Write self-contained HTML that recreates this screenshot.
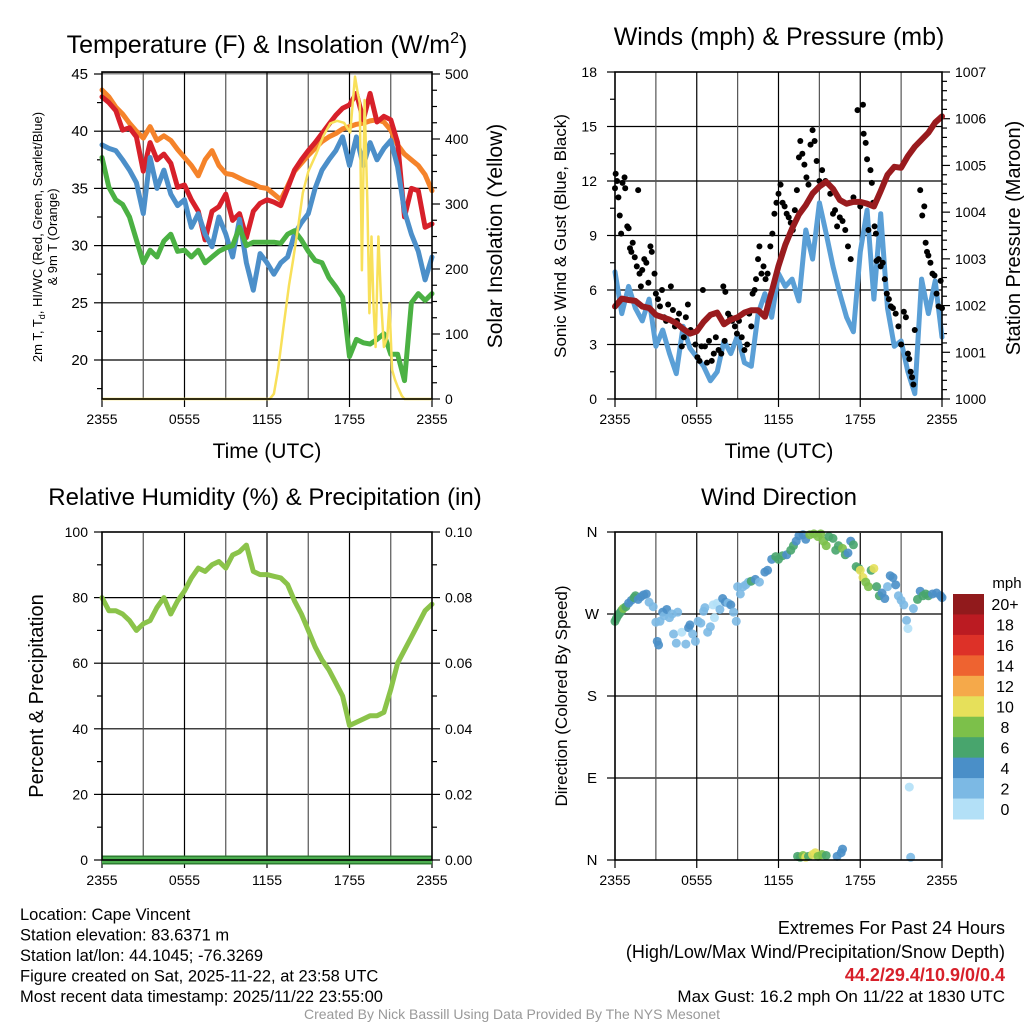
<!DOCTYPE html>
<html><head><meta charset="utf-8">
<style>
html,body{margin:0;padding:0;background:#fff;}
svg{display:block;font-family:"Liberation Sans",Arial,sans-serif;}
</style></head>
<body>
<svg id="fig" width="1024" height="1024" viewBox="0 0 1024 1024"></svg>
<script>
// ---------- DATA ----------
const timeLabels = ['2355','0555','1155','1755','2355'];
const halfHours = [0,0.5,1,1.5,2,2.5,3,3.5,4,4.5,5,5.5,6,6.5,7,7.5,8,8.5,9,9.5,10,10.5,11,11.5,12,12.5,13,13.5,14,14.5,15,15.5,16,16.5,17,17.5,18,18.5,19,19.5,20,20.5,21,21.5,22,22.5,23,23.5,24];
const temp9m = [43.6,43,42.1,41.5,40.7,40,39.4,40.4,39.2,39.6,39.2,38.4,37.7,37,36.1,37.5,38.3,37,36.3,36.2,35.9,35.6,35.4,35.1,35,34.5,34,35.2,36.5,37.2,37.9,38.5,39.1,39.5,39.8,40.2,40.4,40.6,40.7,40.9,41,40.8,40.1,38.8,38,37.5,37,36.2,34.8];
const temp2m = [43,42.5,41.8,40.1,40.3,39.5,36.5,39,37.5,38,37.2,35.1,35.3,34,33,30.5,33,33.4,34.5,32.2,32.8,30.7,33,33.7,34,33.8,33.5,35,36.6,37.5,38.3,39,39.8,40.6,41.4,42,42.3,43.3,41,43.3,40.8,41.3,41,39,32.5,35,34.8,31.6,31.9];
const windChill = [38.8,38.5,38.3,37.5,36.6,35.5,32.8,37.7,35,36.6,34.5,33.5,34,31.6,32.8,31,29.9,32.5,31,29,32.3,28.5,26.1,29.3,28.5,27.5,28.5,29,31,32,32.8,35,36.6,37.5,38.3,39.5,37,39.5,37,39,37.5,38.5,39.2,36.9,33,31,29.5,27,29];
const dewPoint = [37.7,35.1,34,33.6,32.5,30.5,28.5,29.6,29,30.4,31,29.5,29.6,29,29.6,28.5,29,29.5,29.8,30,31.6,30,30.3,30.3,30.3,30.3,30.2,31,31.3,30.5,29.5,28.7,28.5,27.2,26.4,25.5,20.3,21.8,21.5,21.4,21.8,22.3,20.5,20.5,18.2,25,25.8,25.2,25.8];
const solarTimes = [0,12.2,12.5,12.8,13.2,13.6,13.9,14.3,14.6,15,15.6,16.1,16.6,17.1,17.6,18.05,18.4,18.6,18.75,18.9,19.1,19.3,19.45,19.6,19.75,19.9,20.1,20.3,20.5,20.75,20.9,21.1,21.3,21.5,21.8,22,24];
const solarValues = [0,0,8,45,111,175,214,270,317,350,378,405,424,428,425,410,496,470,455,198,460,300,132,250,140,80,250,150,80,95,147,45,30,19,5,0,0];
const windSpeed = [7,4.7,6.2,5,4.3,5.5,2.9,3.8,2.5,1.4,4,2.8,2.3,1.8,1,1.5,3.2,2.5,3.5,2,1.8,4.7,5.8,4.5,6.9,6.2,6.6,5.4,9.3,7.7,10.8,9.1,7.3,5.8,4.5,3.7,8.1,10.4,5.5,10.2,5,2.9,3.2,1.5,0.3,6.6,4.7,6.5,3.4];
const pressure = [1001.98,1002.15,1002.12,1002.1,1001.98,1001.95,1001.8,1001.75,1001.7,1001.62,1001.5,1001.4,1001.45,1001.65,1001.8,1001.85,1001.6,1001.7,1001.75,1001.85,1001.9,1001.9,1001.76,1002.3,1002.85,1003.3,1003.65,1003.95,1004.15,1004.4,1004.55,1004.65,1004.5,1004.26,1004.18,1004.22,1004.22,1004.18,1004.12,1004.45,1004.8,1004.97,1004.95,1005.2,1005.4,1005.55,1005.7,1005.92,1006.05];
const gustTimes = [0,0.05,0.15,0.25,0.35,0.45,0.55,0.7,0.75,0.9,1,1.1,1.2,1.3,1.45,1.6,1.7,1.8,1.9,2,2.15,2.3,2.45,2.6,2.7,2.9,3,3.15,3.3,3.45,3.6,3.75,3.9,4.1,4.25,4.4,4.55,4.7,4.9,5.05,5.2,5.35,5.55,5.9,6.05,6.2,6.35,6.45,6.6,6.75,6.9,7.1,7.25,7.4,7.6,7.8,7.95,8.05,8.1,8.3,8.45,8.6,8.8,8.95,9.1,9.3,9.5,9.7,9.85,10,10.1,10.25,10.35,10.5,10.6,10.75,10.9,11.05,11.2,11.4,11.55,11.7,11.85,12,12.15,12.3,12.45,12.6,12.75,12.9,13.05,13.2,13.35,13.5,13.6,13.75,13.9,14.05,14.2,14.35,14.5,14.65,14.8,15,15.2,15.45,15.8,16,16.15,16.3,16.5,16.7,16.9,17.1,17.3,17.5,17.8,18.2,18,18.25,18.4,18.5,18.6,18.75,18.85,18.95,19.05,19.15,19.2,19.35,19.5,19.65,19.8,19.95,20.1,20.25,20.4,20.6,20.8,21,21.2,21.35,21.5,21.6,21.7,21.8,21.9,22,22.4,22.55,22.7,22.8,22.9,23,23.15,23.3,23.45,23.6,23.75,23.9,24];
const gustValues = [11.6,12.4,12,11.1,10.1,9.1,11.9,12.2,11.6,9.5,9.4,8.3,8.1,8.6,7.8,7.3,11.5,6.9,6.2,7.1,7.7,7.5,6.4,8.4,8.1,6.9,5.8,5.5,5.1,6,4.5,4.3,5.2,6.2,4.9,4,4.3,4.7,2.9,3.4,4.5,5.2,3.8,3,2.3,2.1,2.9,6,2.9,2,3.2,2.1,2.5,3.4,2.7,2.5,6.2,3.2,5.9,4.7,4.5,4.3,4,3.6,4.3,3.4,2.7,3,4.7,4,5.8,6,6.6,7.7,8.4,6.9,7.3,6.6,6.9,8.4,9.1,10.2,10.8,11.3,11.8,10.8,10.6,10.2,10,9.7,9.3,10.4,11.5,13.3,14.2,13.5,12.9,12.2,11.8,14,14.8,14.2,13.1,12,12.6,12,11.3,10.2,10.4,9.5,10,9.8,9.3,8.4,7.7,11.1,15.9,16.2,10.6,14.6,14.1,13.2,9.3,12.6,11.9,10.8,9.5,9.1,7.6,7.7,7.3,7.5,6.6,5.8,5.5,5.1,5,4.7,4,3,4.8,4.5,2.5,2.2,1.5,1.2,0.8,3.8,11.5,10.1,10.6,8.6,8.1,7.9,7.5,6.9,6.8,5.8,5.1,6.5,5];
const relHumidity = [80,76,76,75,73,70,72,73,77,80,75,79,82,86,89,88,90,91,89,93,94,96,88,87,87,86.5,86,84,79,75,70,65,61,58,54,50,41,42,43,44,44,45,52,60,64,68,72,76,78];
const precip = [0,0,0,0,0,0,0,0,0,0,0,0,0,0,0,0,0,0,0,0,0,0,0,0,0,0,0,0,0,0,0,0,0,0,0,0,0,0,0,0,0,0,0,0,0,0,0,0,0];
const dirTimes = [0,0.1,0.2,0.3,0.4,0.5,0.6,0.8,1,1.2,1.4,1.5,1.7,1.9,2.1,2.3,2.5,2.8,3,3.1,3.2,3.3,3.5,3.6,3.8,4,4.2,4.3,4.5,4.6,4.9,5.2,5.4,5.5,5.7,5.9,6.1,6.3,6.5,6.6,6.8,7,7.2,7.3,7.5,7.7,7.9,8.1,8.3,8.5,8.7,8.9,9,9.2,9.4,9.6,9.8,10,10.3,10.6,11,11.2,11.5,11.8,12,12.3,12.6,12.9,13.1,13.3,13.5,13.8,14,14.3,14.6,14.9,15.1,15.3,15.5,15.7,16,16.2,16.4,16.7,16.9,17.1,17.3,17.5,17.7,17.9,18,18.2,18.4,18.6,18.8,19,19.2,19.4,19.6,19.8,20,20.2,20.4,20.6,20.8,21,21.2,21.4,21.5,21.6,21.9,22.2,22.4,22.6,22.8,23,23.3,23.6,23.9,24,13.4,13.6,13.8,14,14.2,14.5,14.7,14.9,15.2,15.5,16.3,16.6,16.7,21.7];
const dirValues = [262,265,268,270,272,274,276,278,282,285,288,290,286,289,291,292,283,278,261,240,236,262,272,268,275,266,270,248,238,272,250,237,255,258,248,240,262,260,273,277,250,256,280,266,282,275,287,283,282,280,272,262,300,292,300,302,305,306,308,305,316,318,330,333,330,334,335,340,345,350,356,357,352,357,358,355,358,350,345,355,353,340,345,342,335,337,350,346,322,320,318,310,305,300,318,320,300,290,293,287,300,312,310,302,290,285,280,263,254,80,276,286,295,290,292,290,292,293,290,288,4,3,5,3,4,6,8,4,6,5,4,8,12,3];
const dirSpeeds = [6,6,7,6,7,6,8,7,4,4,7,7,4,4,4,4,2,3,2,4,4,3,4,3,4,2,3,2,3,2,1,3,4,4,2,3,3,2,3,2,2,3,0,1,1,3,4,4,3,4,2,3,2,3,2,2,2,6,4,3,4,4,4,6,6,6,4,6,6,4,4,4,4,8,8,8,8,8,8,6,6,6,7,8,6,4,4,6,6,6,10,10,8,8,6,10,6,6,4,4,2,4,4,4,2,2,2,2,0,0,2,6,4,6,6,6,4,4,4,4,6,6,8,10,6,10,10,8,8,6,4,4,4,2];
const cbarLabels = ['20+','18','16','14','12','10','8','6','4','2','0'];
const cbarColors = ['#911a1c','#bb1b22','#dd3128','#ee6330','#f5a94a','#e6e05a','#7cc04a','#48a56d','#4a8fc8','#7cb9e4','#b3e0f7'];
const binColors = ['#b3e0f7','#7cb9e4','#4a8fc8','#48a56d','#7cc04a','#e6e05a','#f5a94a','#ee6330','#dd3128','#bb1b22','#911a1c'];

// ---------- HELPERS ----------
const NS='http://www.w3.org/2000/svg';
const svg=document.getElementById('fig');
function mk(tag,attrs,parent){const e=document.createElementNS(NS,tag);for(const k in attrs)e.setAttribute(k,attrs[k]);(parent||svg).appendChild(e);return e;}
function txt(s,x,y,size,anchor,parent,extra){const e=mk('text',Object.assign({x:x,y:y,'font-size':size,'text-anchor':anchor||'middle',fill:'#000'},extra||{}),parent);e.textContent=s;return e;}
function lin(d0,d1,r0,r1){return v=>r0+(v-d0)*(r1-r0)/(d1-d0);}
function path(xs,ys,fx,fy){return xs.map((t,i)=>(i?'L':'M')+fx(t).toFixed(1)+','+fy(ys[i]).toFixed(1)).join('');}

function panelFrame(g,L,R,T,B,name){
  const r=mk('rect',{x:L,y:T,width:R-L,height:B-T,fill:'none',stroke:'#000','stroke-width':1.6},g);
  
  
}
function timeAxis(g,L,R,B,fx,name){
  for(let h=3;h<24;h+=3){const l=mk('line',{x1:fx(h),x2:fx(h),y1:B-327,y2:B,stroke:h%6?'#555':'#000','stroke-width':1.2},g);
    
    }
  timeLabels.forEach((s,i)=>{const t=txt(s,fx(i*6),B+25,14,'middle',g);
    
    
    const k=mk('line',{x1:fx(i*6),x2:fx(i*6),y1:B,y2:B+8,stroke:'#000','stroke-width':1.2},g);
    
    });
}

// ===== PANEL 1: Temperature =====
(function(){
 const g=mk('g',{});
 
 
 const L=102,R=432,T=72,B=399;
 const fx=lin(0,24,L,R), fy=lin(45,20,74,360), fs=lin(0,500,399,74);
 for(let v=20;v<=40;v+=5){const l=mk('line',{x1:L,x2:R,y1:fy(v),y2:fy(v),stroke:'#000','stroke-width':1.2},g);
   
   }
 const top=mk('line',{x1:L,x2:R,y1:73,y2:73,stroke:'#888','stroke-width':3},g);
 
 
 timeAxis(g,L,R,B,fx,'temp');
 for(let v=17.5;v<=45;v+=2.5){const major=v%5===0;const k=mk('line',{x1:L-(major?8:5),x2:L,y1:fy(v),y2:fy(v),stroke:'#000','stroke-width':1.2},g);
   
   
   if(major){const t=txt(String(v),88,fy(v)+5,15,'end',g);
   
   }}
 for(let v=0;v<=500;v+=25){const major=v%100===0;const k=mk('line',{x1:R,x2:R+(major?8:5),y1:fs(v),y2:fs(v),stroke:'#000','stroke-width':1.2},g);
   
   
   if(major){const t=txt(String(v),445,fs(v)+5,14,'start',g);
   
   }}
 const series=[[temp9m,'#f5832a','orange-9m-temp'],[temp2m,'#d7202a','red-2m-temp'],[windChill,'#4c8fc9','blue-wind-chill'],[dewPoint,'#4bb143','green-dew-point']];
 series.forEach(s=>{const p=mk('path',{d:path(halfHours,s[0],fx,fy),fill:'none',stroke:s[1],'stroke-width':5,'stroke-linejoin':'round','stroke-linecap':'round'},g);
   
   });
 const sp=mk('path',{d:path(solarTimes,solarValues,fx,fs),fill:'none',stroke:'#f8e05a','stroke-width':2.5,'stroke-linejoin':'round'},g);
 
 
 panelFrame(g,L,R,T,B,'temp');
 const ti=mk('text',{x:267,y:53,'font-size':25,'text-anchor':'middle'},g);
 ti.innerHTML='Temperature (F) &amp; Insolation (W/m<tspan dy="-10" font-size="16">2</tspan><tspan dy="10">)</tspan>';
 
 
 const xl=txt('Time (UTC)',267,458,21,'middle',g);
 
 
 const yl=mk('text',{x:0,y:0,'font-size':13,'text-anchor':'middle',transform:'translate(42,237) rotate(-90)'},g);
 yl.innerHTML='2m T, T<tspan dy="3" font-size="9">d</tspan><tspan dy="-3">, HI/WC (Red, Green, Scarlet/Blue)</tspan>';
 
 
 const yl2=txt('& 9m T (Orange)',0,0,13,'middle',g,{transform:'translate(57,237) rotate(-90)'});
 
 
 const yr=txt('Solar Insolation (Yellow)',0,0,21,'middle',g,{transform:'translate(502,236) rotate(-90)'});
 
 
})();

// ===== PANEL 2: Winds & Pressure =====
(function(){
 const g=mk('g',{});
 
 
 const L=615,R=942,T=72,B=399;
 const fx=lin(0,24,L,R), fy=lin(0,18,399,72), fp=lin(1000,1007,399,72);
 for(let v=3;v<=15;v+=3){const l=mk('line',{x1:L,x2:R,y1:fy(v),y2:fy(v),stroke:'#000','stroke-width':1.2},g);
   
   }
 timeAxis(g,L,R,B,fx,'wind');
 for(let v=0;v<=18;v+=1.5){const major=v%3===0;const k=mk('line',{x1:L-(major?8:5),x2:L,y1:fy(v),y2:fy(v),stroke:'#000','stroke-width':1.2},g);
   
   
   if(major){const t=txt(String(v),597,fy(v)+5,14,'end',g);
   
   }}
 for(let v=1000;v<=1007.001;v+=0.2){const major=Math.abs(v-Math.round(v))<0.01;const k=mk('line',{x1:R,x2:R+(major?8:5),y1:fp(v),y2:fp(v),stroke:'#000','stroke-width':1.2},g);
   
   
   if(major){const t=txt(String(Math.round(v)),955,fp(v)+5,14,'start',g);
   
   }}
 const ws=mk('path',{d:path(halfHours,windSpeed,fx,fy),fill:'none',stroke:'#5a9fd6','stroke-width':5,'stroke-linejoin':'round','stroke-linecap':'round'},g);
 
 
 gustTimes.forEach((t,i)=>{const c=mk('circle',{cx:fx(t),cy:fy(gustValues[i]),r:3,fill:'#000'},g);
   
   });
 const pp=mk('path',{d:path(halfHours,pressure,fx,fp),fill:'none',stroke:'#991b1e','stroke-width':6,'stroke-linejoin':'round','stroke-linecap':'round'},g);
 
 
 panelFrame(g,L,R,T,B,'wind');
 const ti=txt('Winds (mph) & Pressure (mb)',779,45,25,'middle',g);
 
 
 const xl=txt('Time (UTC)',779,458,21,'middle',g);
 
 
 const yl=txt('Sonic Wind & Gust (Blue, Black)',0,0,17,'middle',g,{transform:'translate(566,236) rotate(-90)'});
 
 
 const yr=txt('Station Pressure (Maroon)',0,0,20,'middle',g,{transform:'translate(1020,238) rotate(-90)'});
 
 
})();

// ===== PANEL 3: RH & Precip =====
(function(){
 const g=mk('g',{});
 
 
 const L=102,R=432,T=532,B=860;
 const fx=lin(0,24,L,R), fy=lin(0,100,860,532), fq=lin(0,0.1,860,532);
 for(let v=20;v<=80;v+=20){const l=mk('line',{x1:L,x2:R,y1:fy(v),y2:fy(v),stroke:'#000','stroke-width':1.2},g);
   
   }
 timeAxis(g,L,R,B,fx,'rh');
 for(let v=0;v<=100;v+=10){const major=v%20===0;const k=mk('line',{x1:L-(major?8:5),x2:L,y1:fy(v),y2:fy(v),stroke:'#000','stroke-width':1.2},g);
   
   
   if(major){const t=txt(String(v),88,fy(v)+5,14,'end',g);
   
   }}
 for(let i=0;i<=10;i++){const v=i/100;const major=i%2===0;const k=mk('line',{x1:R,x2:R+(major?8:5),y1:fq(v),y2:fq(v),stroke:'#000','stroke-width':1.2},g);
   
   
   if(major){const t=txt(v.toFixed(2),445,fq(v)+5,14,'start',g);
   
   }}
 const rh=mk('path',{d:path(halfHours,relHumidity,fx,fy),fill:'none',stroke:'#8bc34a','stroke-width':5,'stroke-linejoin':'round','stroke-linecap':'round'},g);
 
 
 const pe=mk('path',{d:path(halfHours,precip,fx,fq),fill:'none',stroke:'#2e7d32','stroke-width':9},g);
 
 
 const pq=mk('path',{d:path(halfHours,precip,fx,fq),fill:'none',stroke:'#4caf50','stroke-width':6},g);
 
 
 panelFrame(g,L,R,T,B,'rh');
 const ti=txt('Relative Humidity (%) & Precipitation (in)',265,505,24,'middle',g);
 
 
 const yl=txt('Percent & Precipitation',0,0,20,'middle',g,{transform:'translate(43,696) rotate(-90)'});
 
 
})();

// ===== PANEL 4: Wind Direction =====
(function(){
 const g=mk('g',{});
 
 
 const L=615,R=942,T=532,B=860;
 const fx=lin(0,24,L,R), fy=lin(0,360,860,532);
 const dl=['N','E','S','W','N'];
 for(let i=0;i<=4;i++){const v=i*90;
   if(i>0&&i<4){const l=mk('line',{x1:L,x2:R,y1:fy(v),y2:fy(v),stroke:'#000','stroke-width':1.2},g);
   
   }
   const k=mk('line',{x1:L-8,x2:L,y1:fy(v),y2:fy(v),stroke:'#000','stroke-width':1.2},g);
   
   
   const t=txt(dl[i],592,fy(v)+5,15,'middle',g);
   
   }
 timeAxis(g,L,R,B,fx,'dir');
 dirTimes.forEach((t,i)=>{const bin=Math.min(10,Math.floor(dirSpeeds[i]/2));
   const c=mk('circle',{cx:fx(t),cy:fy(dirValues[i]),r:4.5,fill:binColors[bin],'fill-opacity':0.9},g);
   
   });
 panelFrame(g,L,R,T,B,'dir');
 const ti=txt('Wind Direction',779,505,24,'middle',g);
 
 
 const yl=txt('Direction (Colored By Speed)',0,0,17,'middle',g,{transform:'translate(567,696) rotate(-90)'});
 
 
 const cb=mk('g',{},g);
 
 
 const h=225/11;
 cbarColors.forEach((c,i)=>{const r=mk('rect',{x:953,y:594+i*h,width:31,height:h+0.5,fill:c},cb);
   
   
   const t=txt(cbarLabels[i],1005,594+i*h+h/2+6,16,'middle',cb);
   
   });
 const u=txt('mph',1007,588,15,'middle',cb);
 
 
})();

// ===== FOOTER TEXT =====
(function(){
 const g=mk('g',{});
 
 
 const lines=['Location: Cape Vincent','Station elevation: 83.6371 m','Station lat/lon: 44.1045; -76.3269','Figure created on Sat, 2025-11-22, at 23:58 UTC','Most recent data timestamp: 2025/11/22 23:55:00'];
 lines.forEach((s,i)=>{const t=txt(s,20,920+i*20.5,16.5,'start',g);
   
   });
 const g2=mk('g',{});
 
 
 const a=txt('Extremes For Past 24 Hours',1005,934,18,'end',g2);
 
 
 const b=txt('(High/Low/Max Wind/Precipitation/Snow Depth)',1005,958,18,'end',g2);
 
 
 const c=txt('44.2/29.4/10.9/0/0.4',1005,981,18,'end',g2,{fill:'#d7202a','font-weight':'bold'});
 
 
 const d=txt('Max Gust: 16.2 mph On 11/22 at 1830 UTC',1005,1002,17,'end',g2);
 
 
 const e=txt('Created By Nick Bassill Using Data Provided By The NYS Mesonet',512,1019,14,'middle',svg,{fill:'#999'});
 
 
})();
</script>
</body></html>
